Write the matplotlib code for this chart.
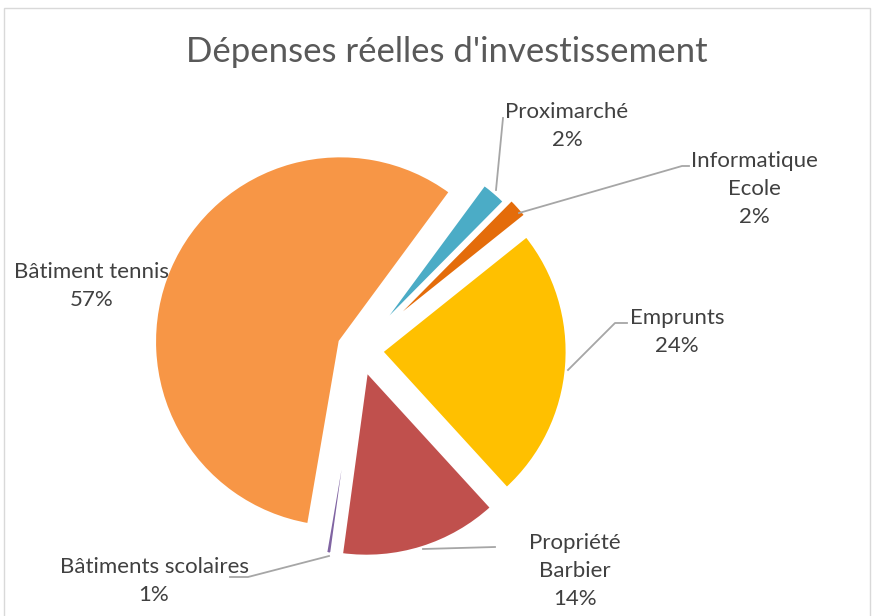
import matplotlib
matplotlib.use("Agg")
import matplotlib.pyplot as plt
from matplotlib.patches import Rectangle

# --- DATA (percent of total, clockwise from the top) ---
names = ["Proximarché", "Informatique\nEcole", "Emprunts",
         "Propriété\nBarbier", "Bâtiments scolaires", "Bâtiment tennis"]
shares = [2.3, 1.85, 23.95, 13.95, 0.55, 57.4]
colors = ["#4BACC6", "#E46C0A", "#FFC000", "#C0504D", "#8064A2", "#F79646"]
explode = [0.115, 0.15, 0.115, 0.115, 0.11, 0.115]
# -------------------------------------------------------

W, H = 875, 616
RADIUS = 186
CX, CY = 360, 350          # pie centre, in screen pixels (y down)


def sy(y):
    # screen y (down) -> data y (up)
    return H - y


fig = plt.figure(figsize=(W / 100, H / 100), dpi=100)
ax = fig.add_axes([0, 0, 1, 1])

ax.pie(shares, colors=colors, startangle=53.6, counterclock=False,
       explode=[e * RADIUS for e in explode], radius=RADIUS,
       center=(CX, sy(CY)), frame=False,
       wedgeprops=dict(edgecolor="white", linewidth=2.5))
ax.set_xlim(0, W)
ax.set_ylim(0, H)
ax.axis("off")

# chart border
ax.add_patch(Rectangle((4, sy(640)), 866, 632, fill=False,
                       edgecolor="#D9D9D9", linewidth=1, clip_on=False))

ax.text(447, sy(52), "Dépenses réelles d'investissement", ha="center",
        va="center", fontsize=25, color="#595959", family="Lato")

# data labels: name + rounded percentage
label_pos = [(567, 126), (754, 189), (677, 332), (575, 571), (154, 581), (92, 286)]
for name, v, (x, y) in zip(names, shares, label_pos):
    ax.text(x, sy(y), f"{name}\n{round(v)}%", ha="center", va="center",
            fontsize=16, color="#404040", family="Lato", linespacing=1.5,
            multialignment="center")

# leader lines
leaders = [
    [(503, 118), (496, 190)],
    [(519, 213), (682, 166), (689, 166)],
    [(568, 370), (615, 323), (627, 323)],
    [(423, 549), (495, 547)],
    [(230, 577), (248, 577), (329, 556)],
]
for pts in leaders:
    ax.plot([p[0] for p in pts], [sy(p[1]) for p in pts],
            color="#A6A6A6", linewidth=1.3)

fig.savefig("out.png", dpi=100)
